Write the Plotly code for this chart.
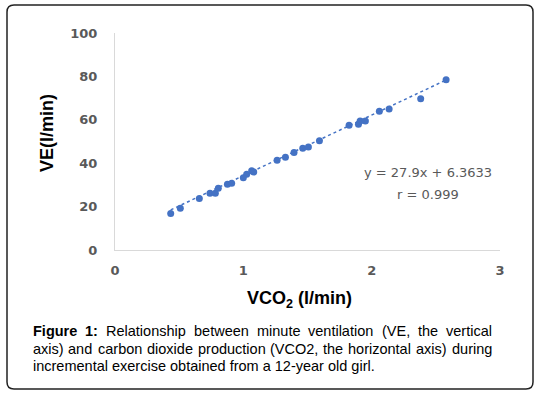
import plotly.graph_objects as go

# ---- data ----
vco2 = [0.434, 0.509, 0.657, 0.740, 0.782, 0.805, 0.876, 0.909, 1.000, 1.026,
        1.065, 1.081, 1.263, 1.328, 1.395, 1.463, 1.507, 1.593, 1.824, 1.897,
        1.910, 1.951, 2.060, 2.136, 2.382, 2.580]
ve = [16.8, 19.2, 23.7, 26.1, 26.1, 28.5, 30.3, 30.8, 33.3, 34.9,
      36.5, 35.9, 41.4, 42.7, 44.9, 46.9, 47.5, 50.3, 57.5, 57.9,
      59.4, 59.4, 63.9, 65.0, 69.7, 78.4]
slope = 27.9
intercept = 6.3633
x_ticks = [0, 1, 2, 3]
y_ticks = [0, 20, 40, 60, 80, 100]
eq_text = "y = 27.9x + 6.3633"
r_text = "r = 0.999"
y_title = "VE(l/min)"
x_title = "VCO<sub>2</sub> (l/min)"
caption_bold = "Figure 1:"
caption_lines = [
    "Figure 1: Relationship between minute ventilation (VE, the vertical",
    "axis) and carbon dioxide production (VCO2, the horizontal axis) during",
    "incremental exercise obtained from a 12-year old girl.",
]

W, H = 538, 396
L, R, T, B = 115, 500, 33, 250  # plot area in pixels


def px(xp):
    return (xp - L) / (R - L)


def py(yp):
    return (B - yp) / (B - T)


BLUE = "#4472C4"
GRAY = "#595959"

# approximate Arial / Liberation Sans advance widths (1/1000 em)
REG = {" ": 278, "(": 333, ")": 333, ",": 278, ".": 278, "-": 333, ":": 278,
       "a": 556, "b": 556, "c": 500, "d": 556, "e": 556, "f": 278, "g": 556,
       "h": 556, "i": 222, "j": 222, "k": 500, "l": 222, "m": 833, "n": 556,
       "o": 556, "p": 556, "q": 556, "r": 333, "s": 500, "t": 278, "u": 556,
       "v": 500, "w": 722, "x": 500, "y": 500, "z": 500,
       "C": 722, "E": 667, "F": 611, "O": 778, "R": 722, "V": 667}
BOLD = {"F": 611, "i": 278, "g": 611, "u": 611, "r": 389, "e": 556, " ": 278,
        "1": 556, ":": 333}


def text_w(s, size, bold=False):
    tab = BOLD if bold else REG
    return sum(tab.get(c, 556) for c in s) * size / 1000.0


fig = go.Figure()

tx = [min(vco2), max(vco2)]
ty = [slope * v + intercept for v in tx]
fig.add_trace(go.Scatter(x=tx, y=ty, mode="lines",
                         line=dict(color=BLUE, width=1.5, dash="dot"),
                         hoverinfo="skip", showlegend=False))
fig.add_trace(go.Scatter(x=vco2, y=ve, mode="markers",
                         marker=dict(color=BLUE, size=7),
                         showlegend=False))

tickfont = dict(size=13, color=GRAY, family="DejaVu Sans", weight="bold")
fig.update_layout(
    width=W, height=H,
    margin=dict(l=L, r=W - R, t=T, b=H - B, pad=0),
    paper_bgcolor="white", plot_bgcolor="white",
    font=dict(family="Liberation Sans, Arial, sans-serif"),
    xaxis=dict(range=[0, 3], tickvals=x_ticks, showgrid=False, zeroline=False,
               showline=True, linecolor="#D9D9D9", linewidth=1,
               ticks="", ticklabelstandoff=8, tickfont=tickfont),
    yaxis=dict(range=[0, 100], tickvals=y_ticks, showgrid=False, zeroline=False,
               showline=True, linecolor="#D9D9D9", linewidth=1,
               ticks="", ticklabelstandoff=14, tickfont=tickfont),
)


def ann(xp, yp, text, font, xanchor="center", angle=0):
    fig.add_annotation(x=px(xp), y=py(yp), xref="paper", yref="paper",
                       text=text, showarrow=False, xanchor=xanchor,
                       yanchor="middle", textangle=angle, font=font,
                       borderpad=0, borderwidth=0)


eqfont = dict(size=13, color=GRAY, family="DejaVu Sans")
ann(428, 172, eq_text, eqfont)
ann(428, 194, r_text, eqfont)

# axis titles
ann(47, 133, "<b>" + y_title + "</b>",
    dict(size=18, color="black", family="Liberation Sans"), angle=-90)
ann(299, 299, "<b>" + x_title + "</b>",
    dict(size=18, color="black", family="Liberation Sans"))

# caption (first two lines justified word by word)
CAP = 14.5
cap_font = dict(size=CAP, color="black", family="Liberation Sans")
left_px, right_px = 33, 492
line_y = [331, 348.5, 366]
for i, line in enumerate(caption_lines):
    if i == len(caption_lines) - 1:
        ann(left_px, line_y[i], line, cap_font, xanchor="left")
        continue
    words = line.split(" ")
    nb = len(caption_bold.split(" ")) if line.startswith(caption_bold) else 0
    widths = [text_w(w, CAP, bold=(k < nb)) for k, w in enumerate(words)]
    gap = (right_px - left_px - sum(widths)) / (len(words) - 1)
    xcur = left_px
    for k, w in enumerate(words):
        t = "<b>" + w + "</b>" if k < nb else w
        ann(xcur, line_y[i], t, cap_font, xanchor="left")
        xcur += widths[k] + gap

# rounded border
x0, x1, y0, y1, rr = 7, 533, 5, 389, 7
path = (f"M {px(x0 + rr)} {py(y0)} L {px(x1 - rr)} {py(y0)} "
        f"Q {px(x1)} {py(y0)} {px(x1)} {py(y0 + rr)} "
        f"L {px(x1)} {py(y1 - rr)} Q {px(x1)} {py(y1)} {px(x1 - rr)} {py(y1)} "
        f"L {px(x0 + rr)} {py(y1)} Q {px(x0)} {py(y1)} {px(x0)} {py(y1 - rr)} "
        f"L {px(x0)} {py(y0 + rr)} Q {px(x0)} {py(y0)} {px(x0 + rr)} {py(y0)} Z")
fig.add_shape(type="path", path=path, xref="paper", yref="paper",
              line=dict(color="#222222", width=1.5))

fig.write_html("out.html", config={"displayModeBar": False},
               post_script="document.body.style.margin='0';")
